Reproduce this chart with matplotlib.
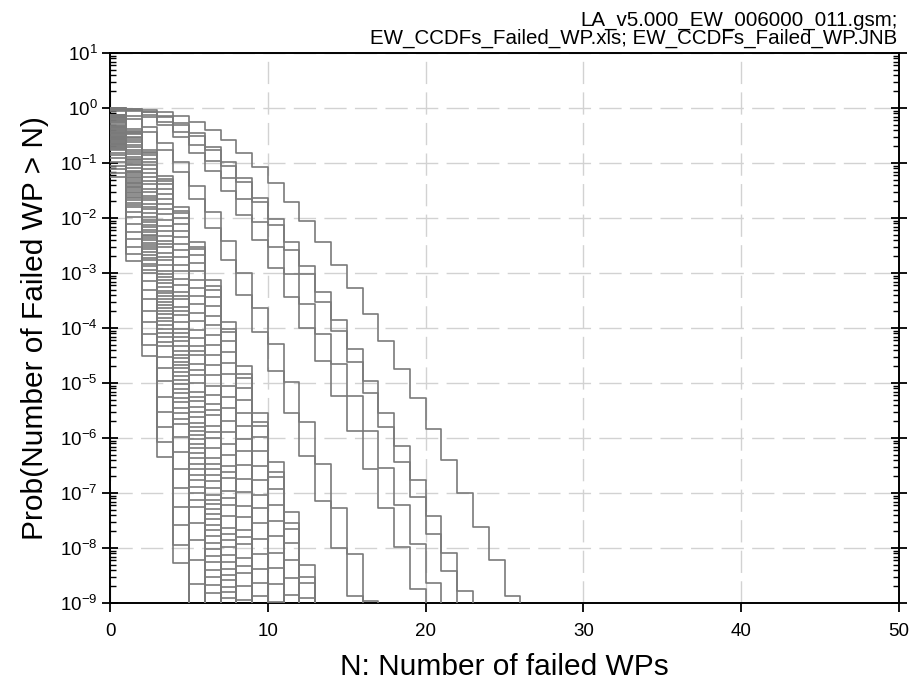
"""CCDFs of the number of failed WPs (EW scenario)"""
import matplotlib
matplotlib.use('Agg')
import matplotlib.pyplot as plt
import numpy as np
from matplotlib.ticker import LogLocator, FixedLocator, NullFormatter

plt.rcParams['font.family'] = ['Liberation Sans', 'DejaVu Sans']
plt.rcParams['mathtext.default'] = 'regular'
plt.rcParams['axes.unicode_minus'] = False

LINE_COLOR = '#7a7a7a'
GRID_COLOR = '#d2d2d2'

# log10 Prob(failed WP > N), N = 0, 1, 2, ... (curve stops once it goes below 1e-9)
curve_a = [0.00, -0.01, -0.03, -0.07, -0.15, -0.26, -0.40, -0.59, -0.82, -1.08, -1.37, -1.70, -2.05,
           -2.44, -2.85, -3.28, -3.74, -4.24, -4.74, -5.28, -5.84, -6.40, -7.00, -7.61, -8.22, -8.87]
curve_b = [0.00, -0.02, -0.07, -0.15, -0.28, -0.46, -0.70, -0.98, -1.28, -1.63, -2.01, -2.43, -2.87,
           -3.35, -3.86, -4.39, -4.96, -5.55, -6.15, -6.77, -7.42, -8.09, -8.78]
curve_c = [0.00, -0.03, -0.08, -0.17, -0.31, -0.50, -0.76, -1.05, -1.35, -1.71, -2.13, -2.58, -3.02,
           -3.53, -4.06, -4.62, -5.19, -5.80, -6.43, -7.07, -7.74, -8.42]
curve_d = [-0.01, -0.04, -0.12, -0.25, -0.43, -0.67, -0.96, -1.28, -1.66, -2.08, -2.53, -3.02, -3.56,
           -4.10, -4.66, -5.23, -5.88, -6.54, -7.22, -7.92, -8.64]
curve_e = [-0.01, -0.06, -0.16, -0.31, -0.53, -0.81, -1.14, -1.51, -1.94, -2.40, -2.90, -3.43, -4.00,
           -4.60, -5.23, -5.88, -6.56, -7.27, -7.99, -8.75]
curve_f = [-0.04, -0.15, -0.35, -0.64, -0.99, -1.41, -1.89, -2.42, -3.00, -3.63, -4.29, -4.98, -5.71,
           -6.48, -7.28, -8.11, -8.96]
curve_g = [-0.05, -0.20, -0.44, -0.77, -1.17, -1.65, -2.18, -2.76, -3.40, -4.08, -4.79, -5.55, -6.33,
           -7.15, -8.00, -8.88]

bundle = [
    [-1.25, -2.79, -4.51, -6.35, -8.28],
    [-1.18, -2.66, -4.30, -6.07, -7.94],
    [-1.11, -2.52, -4.10, -5.80, -7.59],
    [-1.05, -2.38, -3.89, -5.52, -7.25],
    [-0.98, -2.25, -3.69, -5.25, -6.91, -8.65],
    [-0.91, -2.11, -3.48, -4.97, -6.56, -8.22],
    [-0.86, -1.99, -3.30, -4.73, -6.25, -7.86],
    [-0.81, -1.89, -3.14, -4.52, -5.99, -7.54],
    [-0.76, -1.80, -3.00, -4.33, -5.75, -7.26, -8.82],
    [-0.74, -1.76, -2.94, -4.25, -5.65, -7.13, -8.68],
    [-0.72, -1.72, -2.88, -4.16, -5.54, -7.00, -8.53],
    [-0.71, -1.68, -2.83, -4.09, -5.45, -6.89, -8.40],
    [-0.69, -1.64, -2.77, -4.01, -5.35, -6.77, -8.26],
    [-0.68, -1.61, -2.72, -3.95, -5.27, -6.67, -8.14],
    [-0.66, -1.58, -2.67, -3.88, -5.18, -6.56, -8.01],
    [-0.65, -1.55, -2.62, -3.82, -5.10, -6.47, -7.90],
    [-0.63, -1.52, -2.57, -3.75, -5.02, -6.37, -7.78],
    [-0.62, -1.49, -2.53, -3.69, -4.95, -6.28, -7.68],
    [-0.60, -1.46, -2.49, -3.63, -4.87, -6.19, -7.58],
    [-0.59, -1.44, -2.45, -3.58, -4.80, -6.11, -7.48, -8.91],
    [-0.57, -1.41, -2.40, -3.52, -4.73, -6.02, -7.38, -8.80],
    [-0.56, -1.39, -2.37, -3.47, -4.67, -5.95, -7.29, -8.70],
    [-0.55, -1.36, -2.33, -3.42, -4.61, -5.87, -7.20, -8.59],
    [-0.54, -1.34, -2.30, -3.37, -4.55, -5.80, -7.12, -8.49],
    [-0.53, -1.31, -2.26, -3.32, -4.49, -5.72, -7.03, -8.39],
    [-0.52, -1.28, -2.21, -3.26, -4.41, -5.62, -6.91, -8.26],
    [-0.50, -1.25, -2.16, -3.19, -4.32, -5.52, -6.79, -8.12],
    [-0.49, -1.22, -2.12, -3.13, -4.24, -5.43, -6.68, -7.99],
    [-0.47, -1.19, -2.07, -3.07, -4.16, -5.33, -6.57, -7.86],
    [-0.46, -1.17, -2.03, -3.02, -4.09, -5.25, -6.47, -7.75],
    [-0.45, -1.14, -1.99, -2.96, -4.02, -5.16, -6.36, -7.63, -8.94],
    [-0.43, -1.09, -1.91, -2.85, -3.89, -5.00, -6.18, -7.41, -8.69],
    [-0.41, -1.04, -1.84, -2.76, -3.76, -4.85, -6.00, -7.21, -8.46],
    [-0.40, -1.02, -1.80, -2.70, -3.69, -4.76, -5.89, -7.09, -8.32],
    [-0.38, -0.99, -1.75, -2.64, -3.61, -4.66, -5.78, -6.96, -8.18],
    [-0.36, -0.94, -1.67, -2.52, -3.47, -4.49, -5.58, -6.72, -7.92],
    [-0.35, -0.92, -1.64, -2.47, -3.41, -4.41, -5.49, -6.62, -7.80],
    [-0.34, -0.89, -1.60, -2.42, -3.34, -4.33, -5.39, -6.51, -7.67, -8.88],
    [-0.32, -0.84, -1.53, -2.33, -3.22, -4.18, -5.22, -6.30, -7.44, -8.63],
    [-0.30, -0.80, -1.47, -2.24, -3.10, -4.04, -5.05, -6.11, -7.23, -8.39],
    [-0.28, -0.76, -1.39, -2.14, -2.97, -3.88, -4.86, -5.89, -6.98, -8.11],
    [-0.26, -0.71, -1.32, -2.04, -2.85, -3.73, -4.68, -5.69, -6.74, -7.84, -8.98],
    [-0.24, -0.67, -1.25, -1.93, -2.71, -3.57, -4.49, -5.46, -6.49, -7.55, -8.66],
    [-0.22, -0.62, -1.18, -1.84, -2.59, -3.41, -4.30, -5.25, -6.24, -7.28, -8.37],
    [-0.20, -0.58, -1.11, -1.75, -2.47, -3.27, -4.13, -5.05, -6.02, -7.03, -8.09],
    [-0.19, -0.54, -1.04, -1.65, -2.35, -3.12, -3.95, -4.84, -5.78, -6.76, -7.79, -8.85],
    [-0.17, -0.52, -0.99, -1.56, -2.23, -2.97, -3.78, -4.64, -5.55, -6.51, -7.50, -8.54],
    [-0.16, -0.48, -0.92, -1.47, -2.11, -2.82, -3.60, -4.43, -5.31, -6.24, -7.21, -8.21],
    [-0.14, -0.45, -0.86, -1.39, -2.00, -2.68, -3.43, -4.24, -5.09, -5.99, -6.93, -7.91, -8.91],
    [-0.13, -0.43, -0.81, -1.32, -1.91, -2.57, -3.30, -4.08, -4.91, -5.79, -6.70, -7.65, -8.64],
    [-0.13, -0.42, -0.80, -1.29, -1.87, -2.53, -3.24, -4.02, -4.84, -5.70, -6.61, -7.55, -8.53],
    [-0.12, -0.39, -0.76, -1.23, -1.80, -2.44, -3.13, -3.89, -4.69, -5.54, -6.43, -7.35, -8.31],
]

x_ticks = [0, 10, 20, 30, 40, 50]
y_decades = list(range(-9, 2))
source_lines = ['LA_v5.000_EW_006000_011.gsm;',
                'EW_CCDFs_Failed_WP.xls; EW_CCDFs_Failed_WP.JNB']
x_label = 'N: Number of failed WPs'
y_label = 'Prob(Number of Failed WP > N)'

Y_MIN, Y_MAX = 1e-9, 1e1
BELOW = 1e-12  # value past the last step, so that the curve falls off the axis


def plot_ccdf(ax, log_probs):
    n = np.arange(len(log_probs) + 1)
    p = np.append(np.power(10.0, log_probs), BELOW)
    ax.step(n, p, where='post', color=LINE_COLOR, lw=1.2, zorder=3)


fig = plt.figure(figsize=(9.14, 6.84), dpi=100)
ax = fig.add_axes([0.1204, 0.1184, 0.8632, 0.8041])

for curve in bundle + [curve_g, curve_f, curve_e, curve_d, curve_c, curve_b, curve_a]:
    plot_ccdf(ax, curve)

ax.set_yscale('log')
ax.set_xlim(x_ticks[0], x_ticks[-1])
ax.set_ylim(Y_MIN, Y_MAX)

ax.xaxis.set_major_locator(FixedLocator(x_ticks))
ax.yaxis.set_major_locator(FixedLocator([10.0 ** d for d in y_decades]))
ax.yaxis.set_minor_locator(LogLocator(base=10, subs=np.arange(2, 10), numticks=20))
ax.yaxis.set_minor_formatter(NullFormatter())

ax.tick_params(axis='x', which='major', direction='out', length=6.5, width=1.3,
               labelsize=13.5, pad=8)
ax.tick_params(axis='y', which='major', direction='inout', length=12, width=1.3,
               labelsize=13.5, left=True, right=True, pad=3)
ax.tick_params(axis='y', which='minor', direction='in', length=4, width=1.0,
               left=True, right=True)

for s in ax.spines.values():
    s.set_linewidth(1.4)

ax.grid(True, which='major', color=GRID_COLOR, lw=1.0, ls=(0, (16, 6)), zorder=0)
ax.set_axisbelow(True)

ax.set_xlabel(x_label, fontsize=21.5, labelpad=9)
ax.set_ylabel(y_label, fontsize=21.5, labelpad=8)

# source file names, right aligned above the frame
fig.text(0.982, 1 - 26 / 684, source_lines[0], ha='right', va='baseline', fontsize=14.8)
fig.text(0.982, 1 - 44 / 684, source_lines[1], ha='right', va='baseline', fontsize=14.8)

fig.savefig('out.png', dpi=100)
